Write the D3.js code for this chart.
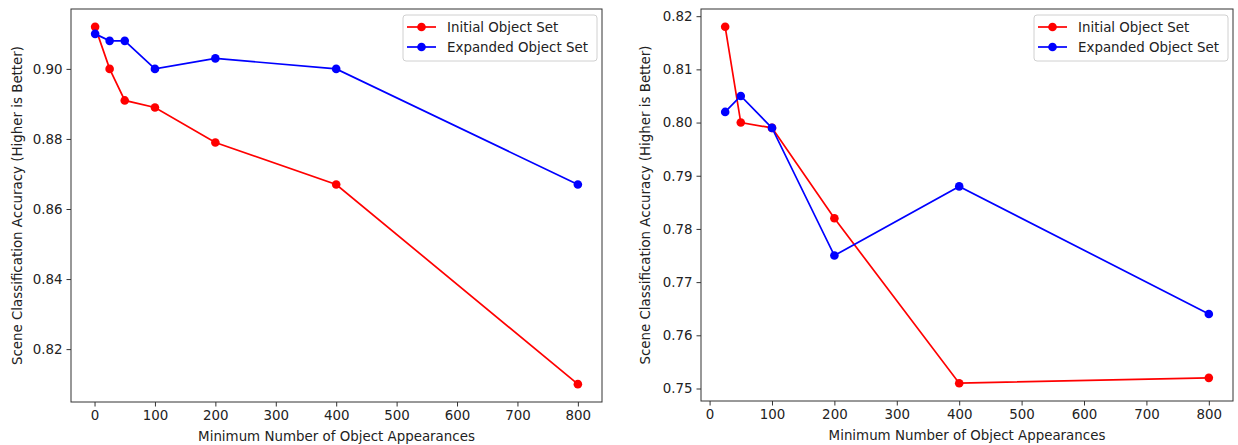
<!DOCTYPE html>
<html>
<head>
<meta charset="utf-8">
<script src="https://cdn.jsdelivr.net/npm/d3@7"></script>
<style>
  body { margin: 0; background: #fff; }
  svg text { font-family: "DejaVu Sans", sans-serif; fill: #222; }
</style>
</head>
<body>
<div class="chart"></div>
<script>
// data
const leftX = [1, 25, 50, 100, 200, 400, 800];
const leftInitial = [0.912, 0.900, 0.891, 0.889, 0.879, 0.867, 0.810];
const leftExpanded = [0.910, 0.908, 0.908, 0.900, 0.903, 0.900, 0.867];

const rightX = [25, 50, 100, 200, 400, 800];
const rightInitial = [0.818, 0.800, 0.799, 0.782, 0.751, 0.752];
const rightExpanded = [0.802, 0.805, 0.799, 0.775, 0.788, 0.764];

const xTicks = [0, 100, 200, 300, 400, 500, 600, 700, 800];
const leftYTicks = [0.82, 0.84, 0.86, 0.88, 0.90];
const rightYTicks = [0.75, 0.76, 0.77, 0.78, 0.79, 0.80, 0.81, 0.82];

const seriesNames = ["Initial Object Set", "Expanded Object Set"];
const seriesColors = ["#ff0000", "#0000ff"];

const xTitle = "Minimum Number of Object Appearances";
const yTitle = "Scene Classification Accuracy (Higher is Better)";

const W = 1238, H = 445;
const FS = 13.4;
const svg = d3.select(".chart")
    .append("svg")
    .attr("width", W)
    .attr("height", H);

// matplotlib-ish 5% margins on the data range
function padded(vals) {
    const [a, b] = d3.extent(vals);
    const p = (b - a) * 0.05;
    return [a - p, b + p];
}

function panel(opts) {
    const { left, right, top, bottom, xs, series, yTicks, yFmt } = opts;
    const g = svg.append("g");

    const xScale = d3.scaleLinear()
        .domain(padded(xs))
        .range([left, right]);
    const yScale = d3.scaleLinear()
        .domain(padded(series.flat()))
        .range([bottom, top]);

    const line = d3.line()
        .x((d, i) => xScale(xs[i]))
        .y(d => yScale(d));

    series.forEach((vals, k) => {
        g.append("path")
            .datum(vals)
            .attr("d", line)
            .attr("fill", "none")
            .attr("stroke", seriesColors[k])
            .attr("stroke-width", 1.7);
        g.selectAll(null)
            .data(vals)
            .enter()
            .append("circle")
            .attr("cx", (d, i) => xScale(xs[i]))
            .attr("cy", d => yScale(d))
            .attr("r", 4.3)
            .attr("fill", seriesColors[k]);
    });

    // axes
    const xAxis = d3.axisBottom(xScale)
        .tickValues(xTicks)
        .tickSize(4.5)
        .tickPadding(4)
        .tickFormat(d3.format("d"));
    const yAxis = d3.axisLeft(yScale)
        .tickValues(yTicks)
        .tickSize(4.5)
        .tickPadding(4)
        .tickFormat(yFmt);

    const gx = g.append("g")
        .attr("transform", `translate(0, ${bottom})`)
        .call(xAxis);
    const gy = g.append("g")
        .attr("transform", `translate(${left}, 0)`)
        .call(yAxis);
    [gx, gy].forEach(a => {
        a.select(".domain").remove();
        a.selectAll("line").attr("stroke", "#333");
        a.selectAll("text")
            .attr("font-size", FS)
            .attr("fill", "#222")
            .attr("font-family", "DejaVu Sans, sans-serif");
    });

    // frame
    g.append("rect")
        .attr("x", left)
        .attr("y", top)
        .attr("width", right - left)
        .attr("height", bottom - top)
        .attr("fill", "none")
        .attr("stroke", "#333")
        .attr("stroke-width", 1);

    // titles
    g.append("text")
        .attr("x", (left + right) / 2)
        .attr("y", bottom + 39)
        .attr("text-anchor", "middle")
        .attr("font-size", FS)
        .text(xTitle);
    g.append("text")
        .attr("transform", `translate(${opts.yTitleX}, ${(top + bottom) / 2}) rotate(-90)`)
        .attr("text-anchor", "middle")
        .attr("font-size", FS)
        .text(yTitle);

    // legend
    const lw = 194, lh = 46;
    const lx = right - 5 - lw, ly = top + 6;
    const leg = g.append("g").attr("transform", `translate(${lx}, ${ly})`);
    leg.append("rect")
        .attr("width", lw)
        .attr("height", lh)
        .attr("rx", 3)
        .attr("fill", "rgba(255,255,255,0.8)")
        .attr("stroke", "#d0d0d0");
    seriesNames.forEach((name, k) => {
        const yy = 12 + k * 20;
        leg.append("line")
            .attr("x1", 4).attr("x2", 33)
            .attr("y1", yy).attr("y2", yy)
            .attr("stroke", seriesColors[k])
            .attr("stroke-width", 1.7);
        leg.append("circle")
            .attr("cx", 18.5).attr("cy", yy)
            .attr("r", 4.3)
            .attr("fill", seriesColors[k]);
        leg.append("text")
            .attr("x", 44)
            .attr("y", yy)
            .attr("dy", "0.35em")
            .attr("font-size", FS)
            .text(name);
    });
}

panel({
    left: 71, right: 602, top: 9, bottom: 402,
    xs: leftX,
    series: [leftInitial, leftExpanded],
    yTicks: leftYTicks,
    yFmt: d3.format(".2f"),
    yTitleX: 22
});

panel({
    left: 701, right: 1233, top: 9, bottom: 401,
    xs: rightX,
    series: [rightInitial, rightExpanded],
    yTicks: rightYTicks,
    yFmt: d3.format(".2f"),
    yTitleX: 650
});
</script>
</body>
</html>
